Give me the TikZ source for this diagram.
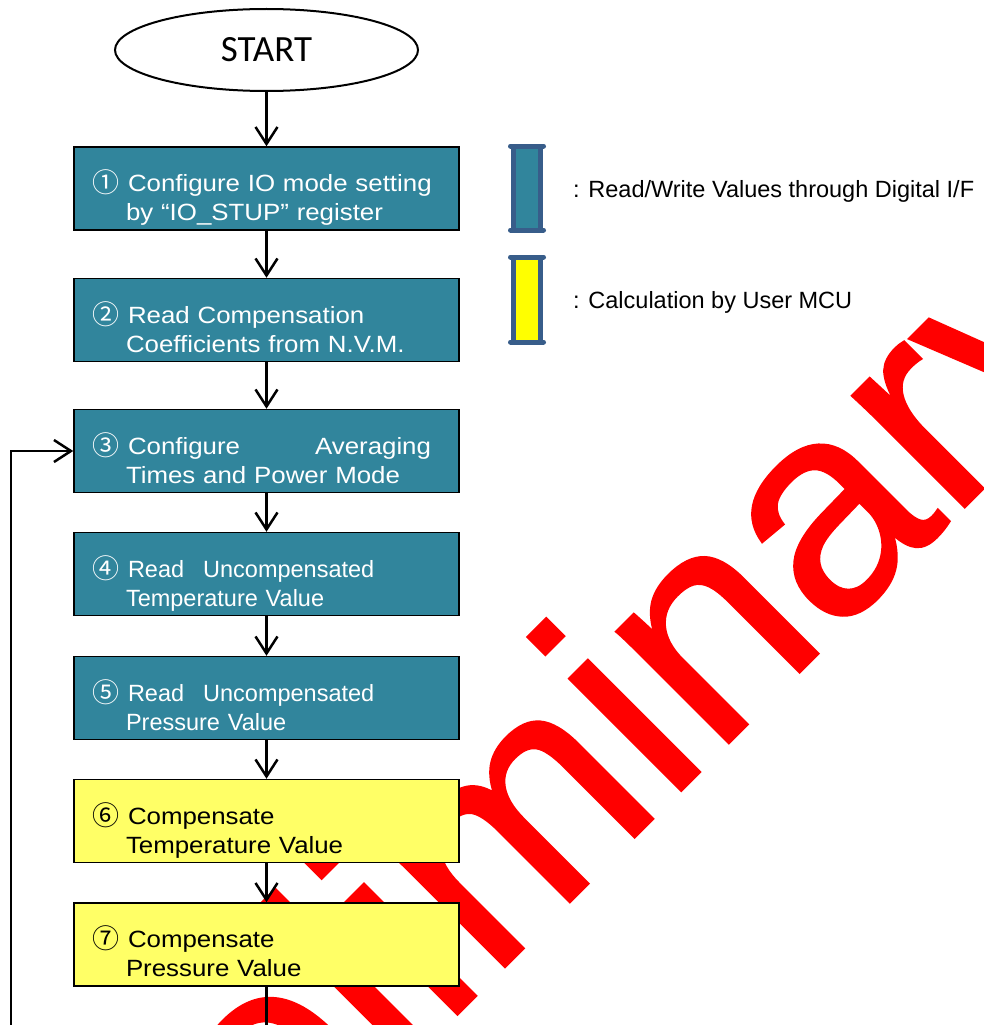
\documentclass[tikz,border=0pt]{standalone}
\usepackage{fontspec}
\setmainfont{Liberation Sans}
\newfontfamily\flowfont{Liberation Sans}
\newfontfamily\flowwidefont[FakeStretch=1.1]{Liberation Sans}
\newfontfamily\markfont[FakeBold=0.8]{Liberation Sans}
\newfontfamily\digitfont{Noto Sans CJK JP}
\newfontfamily\startfont{Carlito}
\usetikzlibrary{shapes.geometric,arrows.meta}
\definecolor{ioteal}{HTML}{31859C}
\definecolor{calcyellow}{HTML}{FFFF66}
\definecolor{keyyellow}{HTML}{FFFF00}
\definecolor{keyblue}{HTML}{385D8A}
\definecolor{wmred}{HTML}{FF0000}
\newcommand{\steptext}[3]{\rule{0pt}{43pt}\makebox[36pt][l]{\raisebox{-1pt}{\fontsize{27}{27}\digitfont #1}}#2\\\hspace*{34pt}#3\rule[-8pt]{0pt}{8pt}}
\tikzset{
  flowbox/.style={rectangle,draw=black,line width=1.5pt,minimum width=385pt,minimum height=83pt,
    inner xsep=18pt,inner ysep=1pt,text width=349pt,align=left,font=\fontsize{23.5}{29}\flowfont},
  widetext/.style={font=\fontsize{23.5}{29}\flowwidefont},
  iobox/.style={flowbox,fill=ioteal,text=white},
  calcbox/.style={flowbox,fill=calcyellow,text=black},
  startnode/.style={ellipse,draw=black,line width=2pt,minimum width=303pt,minimum height=82pt,
    inner sep=0pt,font=\fontsize{37}{40}\startfont},
  flow/.style={line width=2.5pt,-{Straight Barb[length=17pt,width=22pt]}},
  wire/.style={line width=2.5pt},
  keybox/.style={rectangle,draw=keyblue,line width=5pt,inner sep=0pt,outer sep=0pt,
    minimum width=27pt,minimum height=84pt},
  keybar/.style={draw=keyblue,line width=5pt,line cap=round},
  keytext/.style={anchor=base west,inner sep=0pt,font=\fontsize{23.5}{28}\flowfont},
  watermark/.style={rotate=45,anchor=base west,inner sep=0pt,text=wmred,font=\fontsize{300}{310}\markfont}
}
\begin{document}
\begin{tikzpicture}[x=1pt,y=-1pt]
\useasboundingbox (0,0) rectangle (984,1025);
% watermark behind everything
\begin{scope}
\clip (0,0) rectangle (984,1025);
\node[watermark] (prelim) at (66,1406) {Preliminary};
\end{scope}
% flow
\node[startnode] (start) at (266.5,50) {START};
\node[iobox,widetext] (s1) at (266.5,188.5) {\steptext{①}{Configure IO mode setting}{by “IO\_STUP” register}};
\node[iobox,widetext] (s2) at (266.5,320) {\steptext{②}{Read Compensation}{Coefficients from N.V.M.}};
\node[iobox,widetext] (s3) at (266.5,451) {\steptext{③}{Configure\hspace{75pt}Averaging}{Times and Power Mode}};
\node[iobox] (s4) at (266.5,574) {\steptext{④}{Read\hspace{19pt}Uncompensated}{Temperature Value}};
\node[iobox] (s5) at (266.5,698) {\steptext{⑤}{Read\hspace{19pt}Uncompensated}{Pressure Value}};
\node[calcbox,widetext] (s6) at (266.5,821) {\steptext{⑥}{Compensate}{Temperature Value}};
\node[calcbox,widetext] (s7) at (266.5,944.5) {\steptext{⑦}{Compensate}{Pressure Value}};
\foreach \a/\b in {start/s1,s1/s2,s2/s3,s3/s4,s4/s5,s5/s6,s6/s7}\draw[flow] (\a) -- (\b);
\coordinate (loopfoot) at (11,1025);
\coordinate (exitfoot) at (266.5,1025);
\draw[flow] (loopfoot) |- (s3.west);
\draw[wire] (s7) -- (exitfoot);
% legend
\node[keybox,fill=ioteal] (keyio) at (527,188) {};
\node[keybox,fill=keyyellow,minimum height=85pt] (keycalc) at (527,299.5) {};
\foreach \k in {keyio,keycalc}{
  \draw[keybar] ([xshift=-3pt]\k.north west) -- ([xshift=3pt]\k.north east);
  \draw[keybar] ([xshift=-3pt]\k.south west) -- ([xshift=3pt]\k.south east);
}
\node[keytext] (keyiotext) at (573,197) {: Read/Write Values through Digital I/F};
\node[keytext] (keycalctext) at (573,308) {: Calculation by User MCU};
\end{tikzpicture}
\end{document}
